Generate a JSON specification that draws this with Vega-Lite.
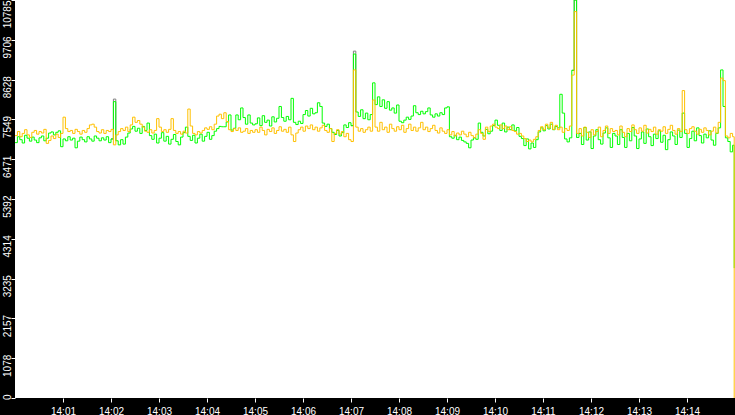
{
  "$schema": "https://vega.github.io/schema/vega-lite/v6.json",
  "width": 720,
  "height": 398,
  "autosize": "none",
  "padding": {"left": 15, "top": 0, "right": 0, "bottom": 17},
  "background": "#000000",
  "config": {"view": {"fill": "#ffffff", "stroke": null}, "font": "Liberation Sans"},
  "datasets": {
    "main": [
      {"t":0,"g":6920,"o":7110},{"t":3,"g":7080,"o":7220},{"t":6,"g":7000,"o":7080},{"t":9,"g":6910,"o":7170},{"t":12,"g":7120,"o":7270},{"t":15,"g":7040,"o":7130},{"t":18,"g":6960,"o":7060},{"t":21,"g":7070,"o":7200},{"t":24,"g":6990,"o":7250},{"t":27,"g":6920,"o":7150},
      {"t":30,"g":7050,"o":7220},{"t":33,"g":7100,"o":7180},{"t":36,"g":6970,"o":7280},{"t":39,"g":7040,"o":6900},{"t":42,"g":7180,"o":6980},{"t":45,"g":7210,"o":7100},{"t":48,"g":7130,"o":7030},{"t":51,"g":7200,"o":7150},{"t":54,"g":7240,"o":7060},{"t":57,"g":6810,"o":7170},
      {"t":60,"g":7020,"o":7610},{"t":63,"g":6970,"o":7300},{"t":66,"g":7080,"o":7220},{"t":69,"g":6990,"o":7250},{"t":72,"g":7040,"o":7170},{"t":75,"g":6780,"o":7280},{"t":78,"g":6960,"o":7220},{"t":81,"g":7070,"o":7150},{"t":84,"g":7000,"o":7250},{"t":87,"g":6940,"o":7200},
      {"t":90,"g":7080,"o":7300},{"t":93,"g":7020,"o":7400},{"t":96,"g":6960,"o":7420},{"t":99,"g":7100,"o":7340},{"t":102,"g":7040,"o":7220},{"t":105,"g":6970,"o":7180},{"t":108,"g":7050,"o":7270},{"t":111,"g":6990,"o":7170},{"t":114,"g":7080,"o":7250},{"t":117,"g":6920,"o":7220},
      {"t":120,"g":7020,"o":7280},{"t":123,"g":8030,"o":6860},{"t":126,"g":6970,"o":7130},{"t":129,"g":6860,"o":7220},{"t":132,"g":7000,"o":7300},{"t":135,"g":6880,"o":7250},{"t":138,"g":7070,"o":7340},{"t":141,"g":7180,"o":7220},{"t":144,"g":7290,"o":7400},{"t":147,"g":7360,"o":7610},
      {"t":150,"g":7230,"o":7470},{"t":153,"g":7310,"o":7520},{"t":156,"g":7170,"o":7420},{"t":159,"g":7360,"o":7340},{"t":162,"g":7250,"o":7230},{"t":165,"g":7450,"o":7200},{"t":168,"g":7110,"o":7270},{"t":171,"g":7010,"o":7180},{"t":174,"g":7150,"o":7250},{"t":177,"g":6910,"o":7570},
      {"t":180,"g":7040,"o":7340},{"t":183,"g":7190,"o":7220},{"t":186,"g":6960,"o":7270},{"t":189,"g":7090,"o":7200},{"t":192,"g":6880,"o":7280},{"t":195,"g":7010,"o":7570},{"t":198,"g":7140,"o":7250},{"t":201,"g":6950,"o":7170},{"t":204,"g":6860,"o":7220},{"t":207,"g":7070,"o":7150},
      {"t":210,"g":7190,"o":7230},{"t":213,"g":7340,"o":7180},{"t":216,"g":7090,"o":7830},{"t":219,"g":6980,"o":7370},{"t":222,"g":7120,"o":7170},{"t":225,"g":6910,"o":7130},{"t":228,"g":7040,"o":7220},{"t":231,"g":7150,"o":7180},{"t":234,"g":6960,"o":7250},{"t":237,"g":7090,"o":7320},
      {"t":240,"g":7200,"o":7280},{"t":243,"g":7010,"o":7350},{"t":246,"g":7110,"o":7270},{"t":249,"g":7230,"o":7420},{"t":252,"g":7300,"o":7640},{"t":255,"g":7360,"o":7690},{"t":258,"g":7350,"o":7570},{"t":261,"g":7350,"o":7730},{"t":264,"g":7480,"o":7490},{"t":267,"g":7670,"o":7270},
      {"t":270,"g":7260,"o":7220},{"t":273,"g":7310,"o":7300},{"t":276,"g":7670,"o":7250},{"t":279,"g":7540,"o":7320},{"t":282,"g":7860,"o":7200},{"t":285,"g":7600,"o":7230},{"t":288,"g":7420,"o":7300},{"t":291,"g":7670,"o":7170},{"t":294,"g":7450,"o":7250},{"t":297,"g":7400,"o":7200},
      {"t":300,"g":7430,"o":7270},{"t":303,"g":7590,"o":7200},{"t":306,"g":7380,"o":7340},{"t":309,"g":7650,"o":7250},{"t":312,"g":7470,"o":7130},{"t":315,"g":7530,"o":7280},{"t":318,"g":7370,"o":7220},{"t":321,"g":7620,"o":7320},{"t":324,"g":7480,"o":7170},{"t":327,"g":7580,"o":7250},
      {"t":330,"g":7900,"o":7350},{"t":333,"g":7600,"o":7230},{"t":336,"g":7500,"o":7280},{"t":339,"g":7630,"o":7200},{"t":342,"g":7540,"o":7340},{"t":345,"g":8120,"o":7130},{"t":348,"g":7470,"o":6950},{"t":351,"g":7410,"o":7180},{"t":354,"g":7500,"o":7270},{"t":357,"g":7440,"o":7340},
      {"t":360,"g":7680,"o":7230},{"t":363,"g":7790,"o":7370},{"t":366,"g":7640,"o":7300},{"t":369,"g":7850,"o":7400},{"t":372,"g":7700,"o":7270},{"t":375,"g":7730,"o":7340},{"t":378,"g":8000,"o":7230},{"t":381,"g":7900,"o":7320},{"t":384,"g":7450,"o":7390},{"t":387,"g":7360,"o":7250},
      {"t":390,"g":7420,"o":7200},{"t":393,"g":7300,"o":7300},{"t":396,"g":7200,"o":6950},{"t":399,"g":7140,"o":7170},{"t":402,"g":7250,"o":7270},{"t":405,"g":7100,"o":7150},{"t":408,"g":7190,"o":7220},{"t":411,"g":7400,"o":7080},{"t":414,"g":7330,"o":7170},{"t":417,"g":7460,"o":7000},
      {"t":420,"g":7380,"o":6950},{"t":423,"g":9320,"o":8890},{"t":426,"g":7750,"o":7340},{"t":429,"g":7630,"o":7230},{"t":432,"g":7810,"o":7300},{"t":435,"g":7570,"o":7200},{"t":438,"g":7720,"o":7270},{"t":441,"g":7540,"o":7340},{"t":444,"g":7680,"o":7230},{"t":447,"g":8540,"o":8075},
      {"t":450,"g":7950,"o":7340},{"t":453,"g":8160,"o":7230},{"t":456,"g":7900,"o":7470},{"t":459,"g":8080,"o":7270},{"t":462,"g":7850,"o":7340},{"t":465,"g":8030,"o":7200},{"t":468,"g":7800,"o":7420},{"t":471,"g":7860,"o":7300},{"t":474,"g":7720,"o":7230},{"t":477,"g":7940,"o":7350},
      {"t":480,"g":7500,"o":7270},{"t":483,"g":7460,"o":7390},{"t":486,"g":7530,"o":7200},{"t":489,"g":7610,"o":7300},{"t":492,"g":7550,"o":7420},{"t":495,"g":7640,"o":7250},{"t":498,"g":7920,"o":7340},{"t":501,"g":7730,"o":7230},{"t":504,"g":7680,"o":7320},{"t":507,"g":7770,"o":7470},
      {"t":510,"g":7700,"o":7270},{"t":513,"g":7760,"o":7340},{"t":516,"g":7860,"o":7220},{"t":519,"g":7670,"o":7300},{"t":522,"g":7610,"o":7390},{"t":525,"g":7700,"o":7250},{"t":528,"g":7640,"o":7180},{"t":531,"g":7730,"o":7320},{"t":534,"g":7680,"o":7230},{"t":537,"g":7860,"o":7170},
      {"t":540,"g":7890,"o":7270},{"t":543,"g":7080,"o":7130},{"t":546,"g":7040,"o":7220},{"t":549,"g":7120,"o":7100},{"t":552,"g":7000,"o":7180},{"t":555,"g":7070,"o":7130},{"t":558,"g":6980,"o":7230},{"t":561,"g":6940,"o":7150},{"t":564,"g":6900,"o":7080},{"t":567,"g":6780,"o":7200},
      {"t":570,"g":6990,"o":7110},{"t":573,"g":7050,"o":7050},{"t":576,"g":7010,"o":7150},{"t":579,"g":7450,"o":7270},{"t":582,"g":7200,"o":7170},{"t":585,"g":7100,"o":7010},{"t":588,"g":7280,"o":7340},{"t":591,"g":7160,"o":7220},{"t":594,"g":7230,"o":7370},{"t":597,"g":7380,"o":7420},
      {"t":600,"g":7530,"o":7340},{"t":603,"g":7390,"o":7300},{"t":606,"g":7250,"o":7400},{"t":609,"g":7450,"o":7300},{"t":612,"g":7210,"o":7370},{"t":615,"g":7340,"o":7270},{"t":618,"g":7270,"o":7350},{"t":621,"g":7400,"o":7250},{"t":624,"g":7240,"o":7220},{"t":627,"g":7330,"o":7150},
      {"t":630,"g":7090,"o":7170},{"t":633,"g":7030,"o":7100},{"t":636,"g":6840,"o":7030},{"t":639,"g":7020,"o":6950},{"t":642,"g":6750,"o":6990},{"t":645,"g":6910,"o":6940},{"t":648,"g":6790,"o":7010},{"t":651,"g":7000,"o":7080},{"t":654,"g":7210,"o":7250},{"t":657,"g":7320,"o":7350},
      {"t":660,"g":7240,"o":7270},{"t":663,"g":7380,"o":7420},{"t":666,"g":7290,"o":7320},{"t":669,"g":7420,"o":7470},{"t":672,"g":7270,"o":7280},{"t":675,"g":7360,"o":7390},{"t":678,"g":7320,"o":7270},{"t":681,"g":8230,"o":7340},{"t":684,"g":7720,"o":7200},{"t":687,"g":7020,"o":7300},
      {"t":690,"g":6940,"o":7250},{"t":693,"g":7050,"o":7370},{"t":696,"g":8880,"o":8750},{"t":699,"g":10785,"o":10470},{"t":702,"g":7060,"o":7170},{"t":705,"g":7170,"o":7300},{"t":708,"g":6870,"o":7100},{"t":711,"g":7330,"o":7340},{"t":714,"g":6990,"o":7200},{"t":717,"g":7210,"o":7060},
      {"t":720,"g":6760,"o":7270},{"t":723,"g":7100,"o":7130},{"t":726,"g":7270,"o":7220},{"t":729,"g":7000,"o":7340},{"t":732,"g":6880,"o":7080},{"t":735,"g":7180,"o":7250},{"t":738,"g":7320,"o":7370},{"t":741,"g":7050,"o":7170},{"t":744,"g":6790,"o":7300},{"t":747,"g":7170,"o":7220},
      {"t":750,"g":7100,"o":7250},{"t":753,"g":6870,"o":7130},{"t":756,"g":7270,"o":7370},{"t":759,"g":7060,"o":7200},{"t":762,"g":6790,"o":7080},{"t":765,"g":7170,"o":7300},{"t":768,"g":6970,"o":7220},{"t":771,"g":7330,"o":7400},{"t":774,"g":7100,"o":7270},{"t":777,"g":6760,"o":7170},
      {"t":780,"g":7020,"o":7320},{"t":783,"g":7210,"o":7230},{"t":786,"g":6900,"o":7390},{"t":789,"g":7290,"o":7180},{"t":792,"g":7080,"o":7280},{"t":795,"g":6840,"o":7220},{"t":798,"g":7150,"o":7340},{"t":801,"g":7030,"o":7150},{"t":804,"g":7240,"o":7270},{"t":807,"g":6930,"o":7230},
      {"t":810,"g":7120,"o":7350},{"t":813,"g":6730,"o":7170},{"t":816,"g":7000,"o":7280},{"t":819,"g":7210,"o":7390},{"t":822,"g":7100,"o":7250},{"t":825,"g":6870,"o":7150},{"t":828,"g":7260,"o":7300},{"t":831,"g":7060,"o":7220},{"t":834,"g":7720,"o":8330},{"t":837,"g":7170,"o":7270},
      {"t":840,"g":6790,"o":7170},{"t":843,"g":7030,"o":7300},{"t":846,"g":7230,"o":7350},{"t":849,"g":6970,"o":7230},{"t":852,"g":7320,"o":7150},{"t":855,"g":7110,"o":7280},{"t":858,"g":6910,"o":7200},{"t":861,"g":7150,"o":7320},{"t":864,"g":7050,"o":7250},{"t":867,"g":7240,"o":7130},
      {"t":870,"g":6990,"o":7230},{"t":873,"g":6850,"o":7340},{"t":876,"g":7170,"o":7180},{"t":879,"g":7320,"o":7470},{"t":882,"g":8890,"o":8670},{"t":885,"g":7900,"o":8600},{"t":888,"g":7050,"o":7100},{"t":891,"g":6950,"o":7050},{"t":894,"g":6670,"o":7170},{"t":897,"g":6850,"o":7080},
      {"t":899,"g":3520,"o":0}
    ],
    "gray": [
      {"k":1,"t":120,"v":7020},{"k":1,"t":123,"v":8100},{"k":1,"t":126,"v":6970},
      {"k":2,"t":420,"v":7380},{"k":2,"t":423,"v":9400},{"k":2,"t":426,"v":7750},
      {"k":3,"t":696,"v":8880},{"k":3,"t":699,"v":10785},{"k":3,"t":702,"v":7060}
    ]
  },
  "encoding": {
    "x": {
      "field": "t", "type": "quantitative",
      "scale": {"domain": [0, 900], "nice": false, "zero": false},
      "axis": {
        "values": [60,120,180,240,300,360,420,480,540,600,660,720,780,840],
        "labelExpr": "'14:' + (datum.value < 600 ? '0' : '') + (datum.value / 60)",
        "title": null, "grid": false, "domain": false,
        "tickColor": "#ffffff", "tickSize": 4, "tickWidth": 1,
        "labelColor": "#ffffff", "labelFont": "Liberation Sans", "labelFontSize": 10,
        "labelPadding": 4, "labelOverlap": false, "labelFlush": false
      }
    },
    "y": {
      "field": "v", "type": "quantitative",
      "scale": {"domain": [0, 10785], "nice": false},
      "axis": {
        "values": [0,1078,2157,3235,4314,5392,6471,7549,8628,9706,10785],
        "format": "d",
        "title": null, "grid": false, "domain": false,
        "tickColor": "#ffffff", "tickSize": 4, "tickWidth": 1,
        "labelColor": "#ffffff", "labelFont": "Liberation Sans", "labelFontSize": 10,
        "labelAngle": 270, "labelAlign": "right", "labelBaseline": "alphabetic",
        "labelOffset": {"condition": {"test": "datum.value == 10785", "value": 0}, "value": -4},
        "labelPadding": 1, "labelOverlap": false, "labelFlush": false, "labelBound": false
      }
    }
  },
  "layer": [
    {
      "data": {"name": "gray"},
      "mark": {"type": "line", "color": "#808080", "strokeWidth": 1, "interpolate": "step-after"},
      "encoding": {"detail": {"field": "k", "type": "nominal"}}
    },
    {
      "data": {"name": "main"},
      "transform": [{"fold": ["g", "o"], "as": ["s", "v"]}],
      "mark": {"type": "line", "strokeWidth": 1, "interpolate": "step-after"},
      "encoding": {
        "color": {"field": "s", "type": "nominal", "scale": {"domain": ["g", "o"], "range": ["#00ff00", "#ffc000"]}, "legend": null}
      }
    }
  ]
}
